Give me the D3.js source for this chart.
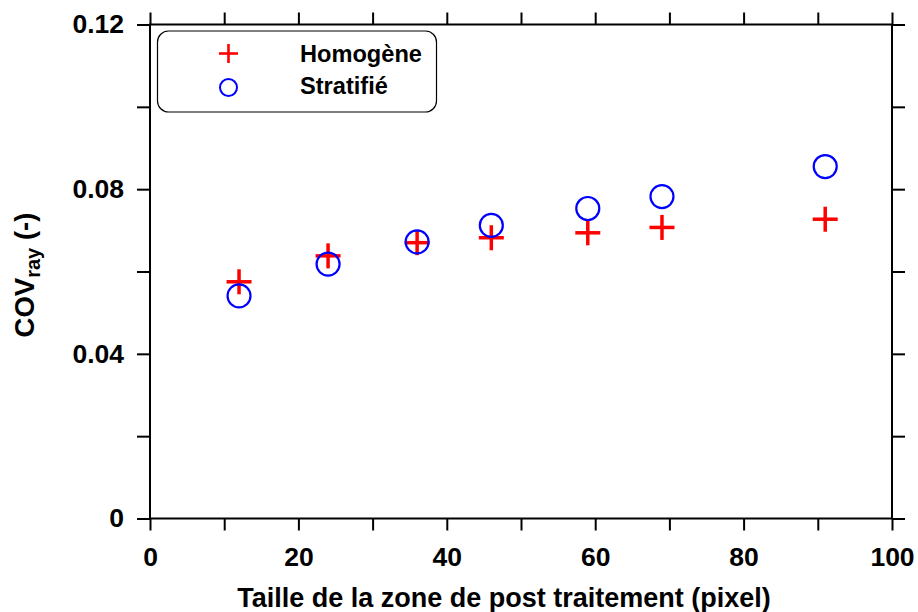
<!DOCTYPE html>
<html>
<head>
<meta charset="utf-8">
<script src="https://cdn.jsdelivr.net/npm/d3@7"></script>
<style>
body { margin: 0; background: #fff; }
svg { display: block; }
text { font-family: "Liberation Sans", Arial, sans-serif; font-weight: bold; }
</style>
</head>
<body>
<svg id="chart" width="918" height="612"></svg>
<script>
const xValues = [12, 24, 36, 46, 59, 69, 91];
const homogene = [0.0575, 0.0638, 0.0670, 0.0682, 0.0694, 0.0707, 0.0727];
const stratifie = [0.0541, 0.0618, 0.0672, 0.0712, 0.0753, 0.0782, 0.0855];
const xTicks = [0, 10, 20, 30, 40, 50, 60, 70, 80, 90, 100];
const xLabelTicks = [0, 20, 40, 60, 80, 100];
const yTicks = [0, 0.02, 0.04, 0.06, 0.08, 0.10, 0.12];
const yLabelTicks = [0, 0.04, 0.08, 0.12];
const seriesNames = ["Homogène", "Stratifié"];

const svg = d3.select("#chart");
const L = 150, R = 892, T = 24.5, B = 518.5;
const x = d3.scaleLinear().domain([0, 100]).range([L, R]);
const y = d3.scaleLinear().domain([0, 0.12]).range([B, T]);

function styleAxis(g) {
  g.select(".domain").remove();
  g.selectAll(".tick line").attr("stroke", "#000").attr("stroke-width", 2);
  g.selectAll(".tick text").attr("fill", "#000").style("font-size", "26.5px").style("font-weight", "bold");
}

// bottom axis
svg.append("g").attr("transform", `translate(0,${B})`)
  .call(d3.axisBottom(x).tickValues(xTicks).tickSize(12).tickSizeOuter(0).tickPadding(17)
    .tickFormat(d => xLabelTicks.includes(d) ? d3.format("d")(d) : ""))
  .call(styleAxis);
// top axis
svg.append("g").attr("transform", `translate(0,${T})`)
  .call(d3.axisTop(x).tickValues(xTicks).tickSize(12).tickSizeOuter(0).tickFormat(""))
  .call(styleAxis);
// left axis
svg.append("g").attr("transform", `translate(${L},0)`)
  .call(d3.axisLeft(y).tickValues(yTicks).tickSize(13).tickSizeOuter(0).tickPadding(13)
    .tickFormat(d => yLabelTicks.some(v => Math.abs(v - d) < 1e-9) ? (d === 0 ? "0" : d3.format(".2f")(d)) : ""))
  .call(styleAxis);
// right axis
svg.append("g").attr("transform", `translate(${R},0)`)
  .call(d3.axisRight(y).tickValues(yTicks).tickSize(13).tickSizeOuter(0).tickFormat(""))
  .call(styleAxis);

// frame
svg.append("rect").attr("x", L).attr("y", T).attr("width", R - L).attr("height", B - T)
  .attr("fill", "none").attr("stroke", "#000").attr("stroke-width", 2);

// axis titles
svg.append("text").attr("x", 504).attr("y", 607).attr("text-anchor", "middle")
  .style("font-size", "27px").text("Taille de la zone de post traitement (pixel)");

const yt = svg.append("text").attr("transform", "translate(34,275) rotate(-90)")
  .attr("text-anchor", "middle").style("font-size", "27.5px");
yt.append("tspan").text("COV");
yt.append("tspan").attr("dy", 6).style("font-size", "20px").text("ray");
yt.append("tspan").attr("dy", -6).text(" (-)");

// markers
function plus(g, cx, cy, half, sw) {
  g.append("line").attr("x1", cx - half).attr("x2", cx + half).attr("y1", cy).attr("y2", cy)
    .attr("stroke", "#ff0000").attr("stroke-width", sw);
  g.append("line").attr("x1", cx).attr("x2", cx).attr("y1", cy - half).attr("y2", cy + half)
    .attr("stroke", "#ff0000").attr("stroke-width", sw);
}

const gPlus = svg.append("g");
xValues.forEach((v, i) => plus(gPlus, x(v), y(homogene[i]), 12.5, 3.5));

svg.append("g").selectAll("circle").data(xValues).join("circle")
  .attr("cx", d => x(d)).attr("cy", (d, i) => y(stratifie[i])).attr("r", 11.5)
  .attr("fill", "none").attr("stroke", "#0000ff").attr("stroke-width", 2.2);

// legend
const lg = svg.append("g");
lg.append("rect").attr("x", 157.5).attr("y", 31).attr("width", 279).attr("height", 81)
  .attr("rx", 11).attr("ry", 11).attr("fill", "#fff").attr("stroke", "#000").attr("stroke-width", 1.2);
plus(lg, 228.5, 53.5, 9.5, 2.6);
lg.append("circle").attr("cx", 228.5).attr("cy", 87.5).attr("r", 8.5)
  .attr("fill", "none").attr("stroke", "#0000ff").attr("stroke-width", 2);
lg.append("text").attr("x", 300).attr("y", 62).style("font-size", "23.6px").text(seriesNames[0]);
lg.append("text").attr("x", 300).attr("y", 94).style("font-size", "23.6px").text(seriesNames[1]);
</script>
</body>
</html>
